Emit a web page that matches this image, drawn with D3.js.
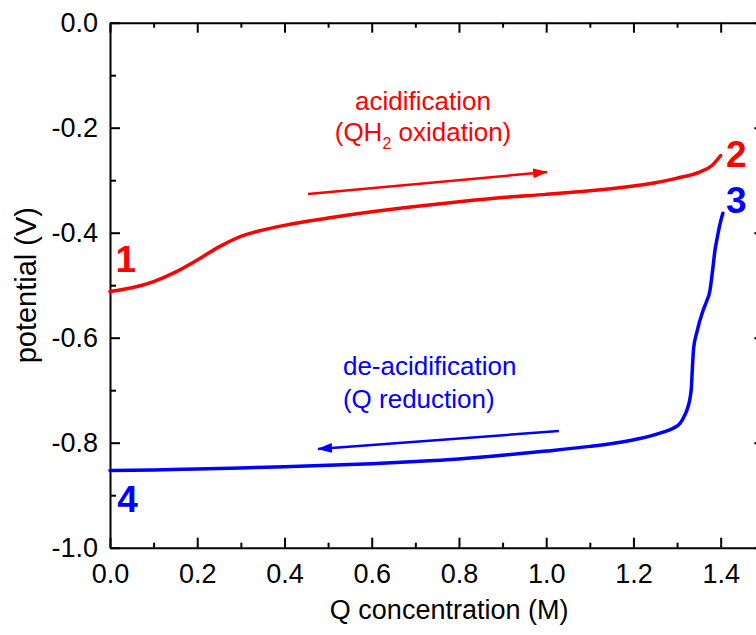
<!DOCTYPE html>
<html>
<head>
<meta charset="utf-8">
<script src="https://cdn.jsdelivr.net/npm/d3@7"></script>
<style>
  body { margin: 0; background: #fff; }
  svg { display: block; }
  text { font-family: "Liberation Sans", Arial, sans-serif; }
</style>
</head>
<body>
<svg id="chart" width="756" height="635"></svg>
<script>
// Oxidation sweep (1 -> 2): Q concentration (M) and potential (V)
const oxidationQ = [0, 0.05, 0.10, 0.15, 0.20, 0.25, 0.30, 0.35, 0.40, 0.50, 0.60, 0.70, 0.80, 0.90, 1.00, 1.10, 1.20, 1.25, 1.30, 1.35, 1.38, 1.40];
const oxidationV = [-0.512, -0.505, -0.493, -0.475, -0.452, -0.427, -0.407, -0.395, -0.386, -0.372, -0.360, -0.350, -0.341, -0.333, -0.327, -0.320, -0.311, -0.305, -0.296, -0.285, -0.272, -0.253];

// Reduction sweep (3 -> 4)
const reductionQ = [1.405, 1.398, 1.392, 1.387, 1.381, 1.375, 1.368, 1.358, 1.345, 1.338, 1.335, 1.333, 1.330, 1.325, 1.315, 1.307, 1.290, 1.268, 1.240, 1.215, 1.170, 1.10, 1.00, 0.90, 0.80, 0.70, 0.60, 0.50, 0.40, 0.30, 0.20, 0.10, 0.00];
const reductionV = [-0.363, -0.385, -0.410, -0.433, -0.475, -0.512, -0.530, -0.552, -0.591, -0.620, -0.660, -0.693, -0.714, -0.732, -0.752, -0.763, -0.773, -0.780, -0.787, -0.792, -0.799, -0.807, -0.816, -0.824, -0.831, -0.836, -0.840, -0.843, -0.846, -0.848, -0.850, -0.852, -0.853];

// Axis ticks
const xMajorTicks = [0, 0.2, 0.4, 0.6, 0.8, 1.0, 1.2, 1.4];
const xMinorTicks = [0.1, 0.3, 0.5, 0.7, 0.9, 1.1, 1.3, 1.5];
const yMajorTicks = [0, -0.2, -0.4, -0.6, -0.8, -1.0];
const yMinorTicks = [-0.1, -0.3, -0.5, -0.7, -0.9];

// Text
const xTitle = "Q concentration (M)";
const yTitle = "potential (V)";
const pointLabels = ["1", "2", "3", "4"];
const pointLabelQ = [0.036, 1.436, 1.436, 0.040];
const pointLabelV = [-0.475, -0.275, -0.362, -0.932];

const svg = d3.select("#chart");
const RED = "#ff0000", BLUE = "#0000ff";

const x = d3.scaleLinear().domain([0, 1.5]).range([110, 764.3]);
const y = d3.scaleLinear().domain([-1, 0]).range([547.7, 22.7]);
const fmt = d => d.toFixed(1);

function styleAxis(g) {
  g.selectAll("path.domain").attr("stroke", "#000").attr("stroke-width", 2);
  g.selectAll(".tick line").attr("stroke", "#000").attr("stroke-width", 2);
  g.selectAll(".tick text").attr("fill", "#000").attr("font-family", "Liberation Sans, Arial, sans-serif");
}

// Bottom axis with labels, ticks pointing inward
const gx = svg.append("g").attr("transform", `translate(0,${y(-1)})`)
  .call(d3.axisBottom(x).tickValues(xMajorTicks).tickFormat(fmt).tickSizeInner(-10).tickSizeOuter(0).tickPadding(16));
styleAxis(gx);
gx.selectAll(".tick text").attr("font-size", 27);
svg.append("g").attr("transform", `translate(0,${y(-1)})`)
  .call(d3.axisBottom(x).tickValues(xMinorTicks).tickFormat("").tickSizeInner(-5).tickSizeOuter(0))
  .call(styleAxis).select("path.domain").remove();

// Left axis
const gy = svg.append("g").attr("transform", `translate(${x(0)},0)`)
  .call(d3.axisLeft(y).tickValues(yMajorTicks).tickFormat(fmt).tickSizeInner(-10).tickSizeOuter(0).tickPadding(12));
styleAxis(gy);
gy.selectAll(".tick text").attr("font-size", 27);
svg.append("g").attr("transform", `translate(${x(0)},0)`)
  .call(d3.axisLeft(y).tickValues(yMinorTicks).tickFormat("").tickSizeInner(-6).tickSizeOuter(0))
  .call(styleAxis).select("path.domain").remove();

// Top and right frame axes (ticks only)
svg.append("g").attr("transform", `translate(0,${y(0)})`)
  .call(d3.axisTop(x).tickValues(xMajorTicks).tickFormat("").tickSizeInner(-10).tickSizeOuter(0))
  .call(styleAxis);
svg.append("g").attr("transform", `translate(0,${y(0)})`)
  .call(d3.axisTop(x).tickValues(xMinorTicks).tickFormat("").tickSizeInner(-5).tickSizeOuter(0))
  .call(styleAxis).select("path.domain").remove();
svg.append("g").attr("transform", `translate(${x(1.5)},0)`)
  .call(d3.axisRight(y).tickValues(yMajorTicks).tickFormat("").tickSizeInner(-10).tickSizeOuter(0))
  .call(styleAxis);
svg.append("g").attr("transform", `translate(${x(1.5)},0)`)
  .call(d3.axisRight(y).tickValues(yMinorTicks).tickFormat("").tickSizeInner(-5).tickSizeOuter(0))
  .call(styleAxis).select("path.domain").remove();

// Axis titles
svg.append("text").attr("x", (x(0) + 764.3) / 2 + 12).attr("y", 619)
  .attr("text-anchor", "middle").attr("font-size", 27).attr("fill", "#000").text(xTitle);
svg.append("text").attr("transform", `translate(36,${(y(0) + y(-1)) / 2}) rotate(-90)`)
  .attr("text-anchor", "middle").attr("font-size", 29).attr("fill", "#000").text(yTitle);

// Curves (both sweeps drawn as functions of Q)
const line = d3.line().x(d => x(d[0])).y(d => y(d[1])).curve(d3.curveMonotoneX);
svg.append("path").datum(d3.zip(oxidationQ, oxidationV))
  .attr("d", line).attr("fill", "none").attr("stroke", RED).attr("stroke-width", 3.5)
  .attr("stroke-linecap", "round").attr("stroke-linejoin", "round");
svg.append("path").datum(d3.zip(reductionQ, reductionV).sort((a, b) => a[0] - b[0]))
  .attr("d", line).attr("fill", "none").attr("stroke", BLUE).attr("stroke-width", 3.5)
  .attr("stroke-linecap", "round").attr("stroke-linejoin", "round");

// Arrowheads
const defs = svg.append("defs");
[["arrRed", RED], ["arrBlue", BLUE]].forEach(([id, c]) => {
  defs.append("marker").attr("id", id).attr("viewBox", "0 0 15 10")
    .attr("refX", 14).attr("refY", 5).attr("markerWidth", 15).attr("markerHeight", 10)
    .attr("markerUnits", "userSpaceOnUse").attr("orient", "auto")
    .append("path").attr("d", "M0,0 L15,5 L0,10 Z").attr("fill", c);
});

// Direction arrows (Q, V)
const arrowRed = [[0.454, -0.3263], [1.002, -0.2844]];
const arrowBlue = [[1.029, -0.7777], [0.477, -0.8120]];
svg.append("line")
  .attr("x1", x(arrowRed[0][0])).attr("y1", y(arrowRed[0][1]))
  .attr("x2", x(arrowRed[1][0])).attr("y2", y(arrowRed[1][1]))
  .attr("stroke", RED).attr("stroke-width", 2.5).attr("marker-end", "url(#arrRed)");
svg.append("line")
  .attr("x1", x(arrowBlue[0][0])).attr("y1", y(arrowBlue[0][1]))
  .attr("x2", x(arrowBlue[1][0])).attr("y2", y(arrowBlue[1][1]))
  .attr("stroke", BLUE).attr("stroke-width", 2.5).attr("marker-end", "url(#arrBlue)");

// Process annotations
const ox = svg.append("text").attr("text-anchor", "middle").attr("font-size", 26).attr("fill", RED);
ox.append("tspan").attr("x", x(0.7176)).attr("y", y(-0.1663)).text("acidification");
const l2 = ox.append("tspan").attr("x", x(0.7176)).attr("y", y(-0.2253));
l2.append("tspan").text("(QH");
l2.append("tspan").attr("font-size", 16).attr("dy", 8).text("2");
l2.append("tspan").attr("dy", -8).text(" oxidation)");

const red = svg.append("text").attr("text-anchor", "start").attr("font-size", 26).attr("fill", BLUE);
red.append("tspan").attr("x", x(0.534)).attr("y", y(-0.671)).text("de-acidification");
red.append("tspan").attr("x", x(0.534)).attr("y", y(-0.7339)).text("(Q reduction)");

// Endpoint numbers
svg.selectAll("text.pt").data(pointLabels).join("text").attr("class", "pt")
  .attr("x", (d, i) => x(pointLabelQ[i])).attr("y", (d, i) => y(pointLabelV[i]))
  .attr("text-anchor", "middle").attr("font-size", 37).attr("font-weight", "bold")
  .attr("fill", (d, i) => i < 2 ? RED : BLUE).text(d => d);
</script>
</body>
</html>
